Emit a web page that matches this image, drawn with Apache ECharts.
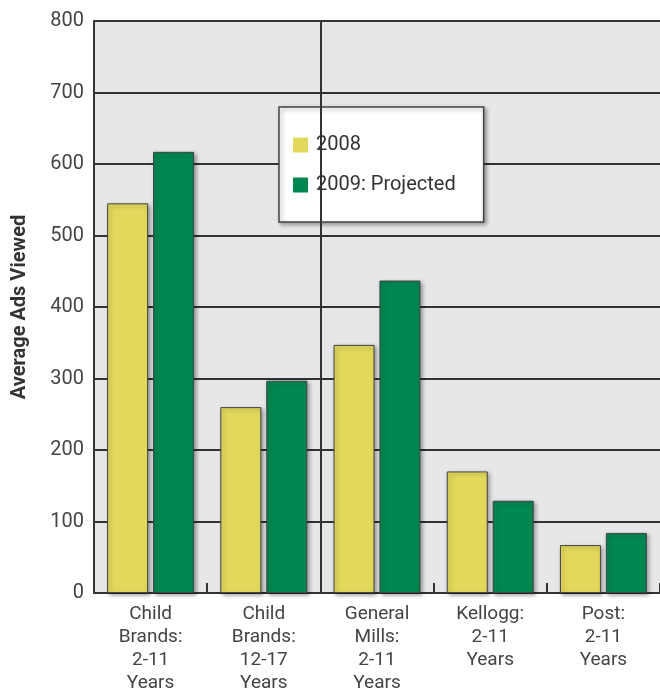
<!DOCTYPE html>
<html>
<head>
<meta charset="utf-8">
<script src="https://cdn.jsdelivr.net/npm/echarts@6/dist/echarts.min.js"></script>
<style>
  html, body { margin: 0; padding: 0; background: #fff; }
  #chart { width: 660px; height: 698px; }
</style>
</head>
<body>
<div id="chart"></div>
<script>
// data
var categories = [
    'Child\nBrands:\n2-11\nYears',
    'Child\nBrands:\n12-17\nYears',
    'General\nMills:\n2-11\nYears',
    'Kellogg:\n2-11\nYears',
    'Post:\n2-11\nYears'
];
var seriesNames = ['2008', '2009: Projected'];
var values2008 = [545, 260, 347, 170, 67];
var values2009 = [617, 297, 437, 129, 84];
var yTicks = { min: 0, max: 800, interval: 100 };

var font = "Roboto, sans-serif";

var myChart = echarts.init(document.getElementById('chart'));

var barShadow = {
    borderColor: '#444',
    borderWidth: 1,
    shadowColor: 'rgba(0,0,0,0.35)',
    shadowBlur: 4,
    shadowOffsetX: 2,
    shadowOffsetY: 2
};

myChart.setOption({
    animation: false,
    textStyle: { fontFamily: font },
    grid: {
        left: 94, top: 21, right: 0, bottom: 105,
        show: true,
        backgroundColor: '#e6e7e9',
        borderWidth: 0
    },
    legend: {
        orient: 'vertical',
        left: 279,
        top: 107,
        padding: [28, 28, 27, 14],
        itemWidth: 15,
        itemHeight: 15,
        itemGap: 20,
        backgroundColor: '#fff',
        borderColor: '#444',
        borderWidth: 1.5,
        shadowColor: 'rgba(0,0,0,0.35)',
        shadowBlur: 4,
        shadowOffsetX: 2,
        shadowOffsetY: 2,
        icon: 'rect',
        itemStyle: { borderWidth: 0, shadowBlur: 0, shadowOffsetX: 0, shadowOffsetY: 0 },
        textStyle: { fontSize: 20, color: '#333', fontFamily: font, padding: [0, 0, 0, 3] },
        data: seriesNames
    },
    xAxis: [
        {
            type: 'category',
            data: categories,
            axisLine: { lineStyle: { color: '#333', width: 2 } },
            axisTick: { show: true, inside: true, length: 10, lineStyle: { color: '#333', width: 2 } },
            axisLabel: {
                color: '#444',
                fontSize: 19,
                lineHeight: 23,
                margin: 10,
                fontFamily: font
            }
        },
        {
            // hidden helper axis, used only to place the divider between the 2nd and 3rd groups
            type: 'value',
            min: 0,
            max: categories.length,
            show: false
        }
    ],
    yAxis: {
        type: 'value',
        min: yTicks.min,
        max: yTicks.max,
        interval: yTicks.interval,
        name: 'Average Ads Viewed',
        nameLocation: 'middle',
        nameGap: 64,
        nameTextStyle: { fontSize: 20, fontWeight: 'bold', color: '#333', fontFamily: font },
        axisLine: { show: true, lineStyle: { color: '#333', width: 2 } },
        axisTick: { show: false },
        splitLine: { lineStyle: { color: '#333', width: 2 } },
        axisLabel: { color: '#444', fontSize: 20, margin: 10, fontFamily: font }
    },
    series: [
        {
            type: 'line',
            xAxisIndex: 1,
            data: [],
            silent: true,
            z: 1,
            markLine: {
                symbol: 'none',
                label: { show: false },
                lineStyle: { color: '#333', width: 2, type: 'solid' },
                data: [{ xAxis: 2 }]
            }
        },
        {
            name: seriesNames[0],
            type: 'bar',
            data: values2008,
            barWidth: 41,
            barGap: '12%',
            z: 3,
            itemStyle: Object.assign({ color: '#e2d95c' }, barShadow)
        },
        {
            name: seriesNames[1],
            type: 'bar',
            data: values2009,
            barWidth: 41,
            barGap: '12%',
            z: 3,
            itemStyle: Object.assign({ color: '#008751' }, barShadow)
        }
    ]
});
</script>
</body>
</html>
